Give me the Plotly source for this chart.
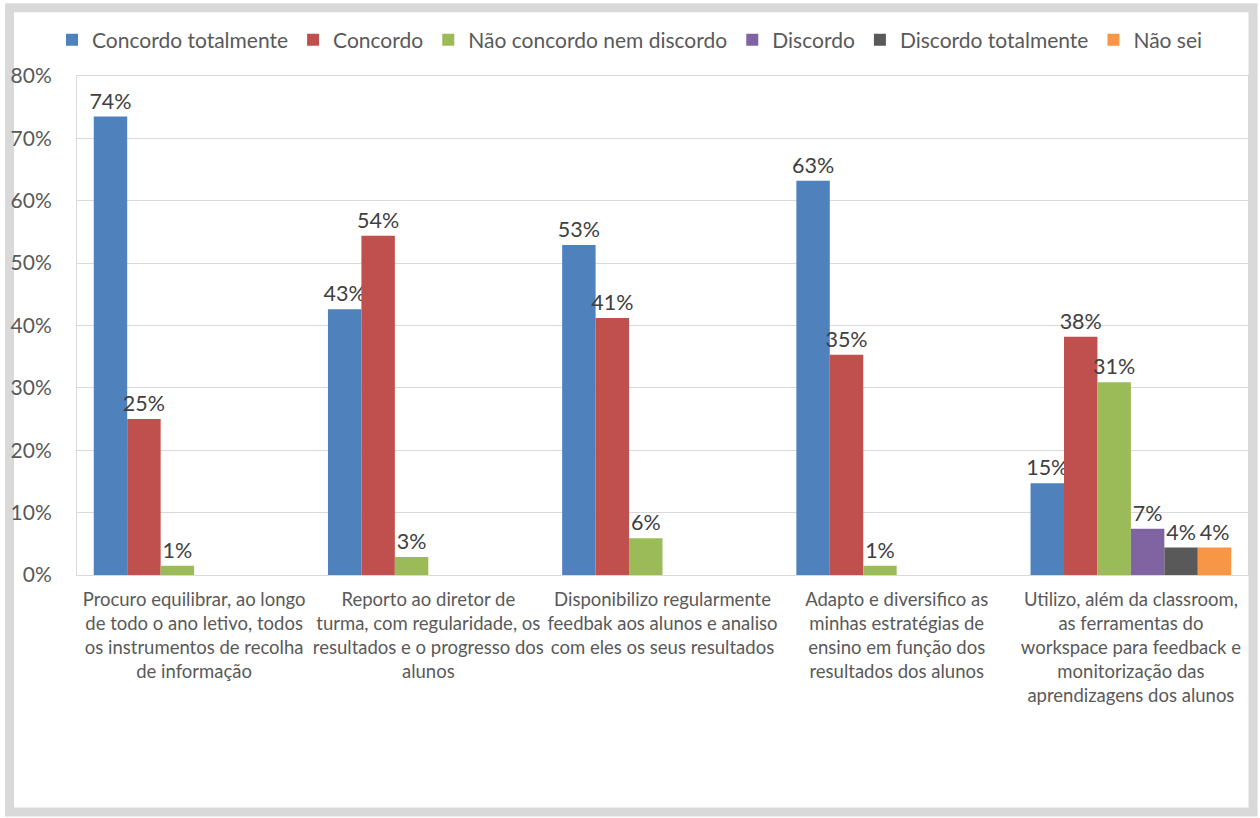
import plotly.graph_objects as go

# Categorias (eixo x)
categorias = [
    "Procuro equilibrar, ao longo<br>de todo o ano letivo, todos<br>os instrumentos de recolha<br>de informação",
    "Reporto ao diretor de<br>turma, com regularidade, os<br>resultados e o progresso dos<br>alunos",
    "Disponibilizo regularmente<br>feedbak aos alunos e analiso<br>com eles os seus resultados",
    "Adapto e diversifico as<br>minhas estratégias de<br>ensino em função dos<br>resultados dos alunos",
    "Utilizo, além da classroom,<br>as ferramentas do<br>workspace para feedback e<br>monitorização das<br>aprendizagens dos alunos",
]

# Percentagens por resposta
concordo_totalmente = [0.735, 0.426, 0.529, 0.632, 0.147]
concordo = [0.250, 0.544, 0.412, 0.353, 0.382]
nem_nem = [0.0147, 0.029, 0.059, 0.0147, 0.309]
discordo = [None, None, None, None, 0.074]
discordo_totalmente = [None, None, None, None, 0.044]
nao_sei = [None, None, None, None, 0.044]

series = [
    ("Concordo totalmente", concordo_totalmente, "#4f81bd"),
    ("Concordo", concordo, "#c0504d"),
    ("Não concordo nem discordo", nem_nem, "#9bbb59"),
    ("Discordo", discordo, "#8064a2"),
    ("Discordo totalmente", discordo_totalmente, "#595959"),
    ("Não sei", nao_sei, "#f79646"),
]

fonte = "Lato, Calibri, sans-serif"

fig = go.Figure()
for nome, valores, cor in series:
    fig.add_trace(go.Bar(
        x=categorias, y=valores, name=nome,
        marker=dict(color=cor, line=dict(width=0)),
        texttemplate="%{y:.0%}", textposition="outside",
        textfont=dict(size=21.5, color="#404040", family=fonte),
        constraintext="none", cliponaxis=False,
    ))

# moldura cinza em volta do gráfico
fig.add_shape(type="rect", xref="paper", yref="paper",
              x0=-0.0576, x1=1.0043, y0=-0.475, y1=1.137,
              line=dict(color="#d9d9d9", width=9), layer="below")

fig.update_layout(
    width=1260, height=818,
    margin=dict(l=77, r=12, t=76, b=243, autoexpand=False),
    barmode="group", bargap=0.143, bargroupgap=0,
    plot_bgcolor="white", paper_bgcolor="white",
    font=dict(family=fonte, color="#595959"),
    showlegend=True,
    legend=dict(orientation="h", x=0.5, xanchor="center", xref="container",
                y=0.951, yanchor="middle", yref="container",
                font=dict(size=21, color="#595959"), itemwidth=30,
                bgcolor="rgba(0,0,0,0)"),
)
fig.update_yaxes(range=[0, 0.8], dtick=0.1, tickformat=".0%",
                 tickfont=dict(size=21, color="#595959"),
                 showgrid=True, gridcolor="#d9d9d9", gridwidth=1,
                 showline=True, linecolor="#d9d9d9", mirror=True,
                 zeroline=False, ticklabelstandoff=20, automargin=False)
fig.update_xaxes(tickfont=dict(size=18.5, color="#595959"),
                 showline=True, linecolor="#d9d9d9", mirror=True,
                 ticks="", ticklabelstandoff=8, automargin=False)

fig.write_html("out.html", config={"displayModeBar": False},
               post_script="document.body.style.margin='0';")
